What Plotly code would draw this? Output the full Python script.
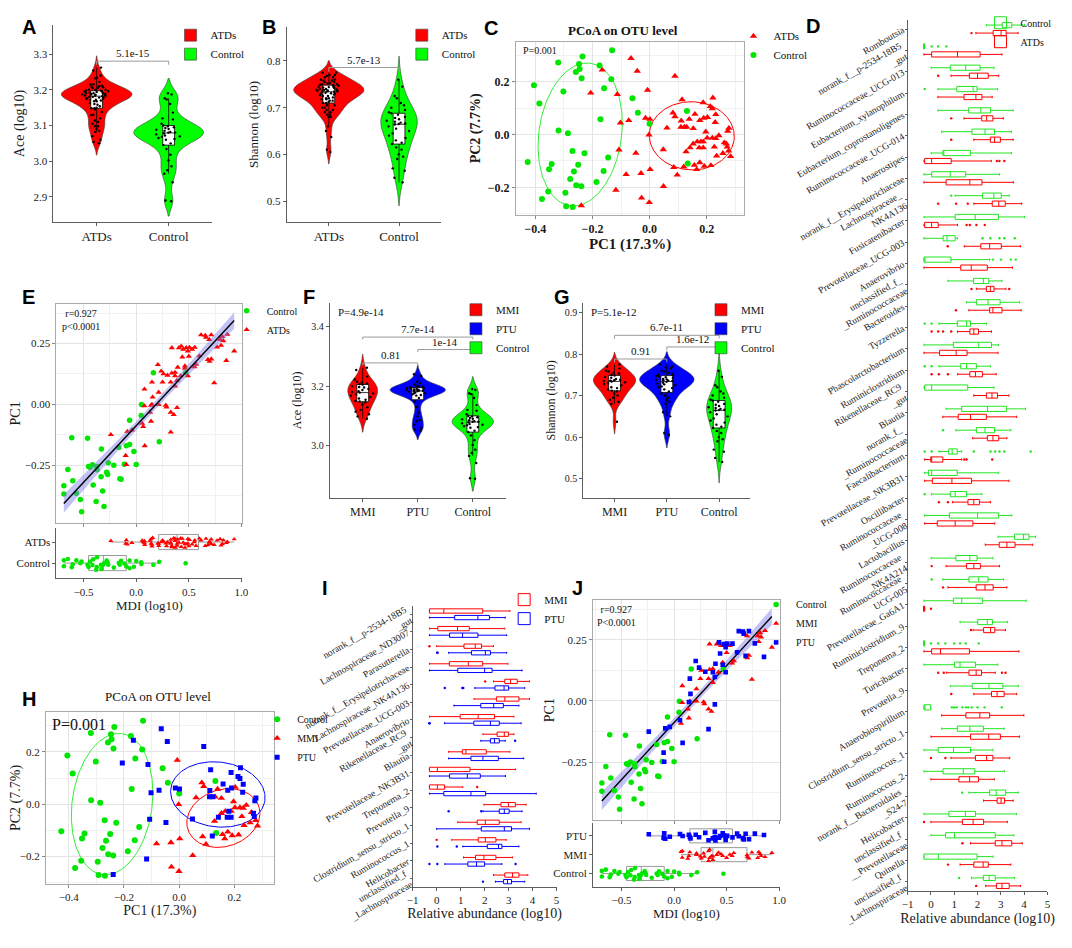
import numpy as np
import plotly.graph_objects as go

W, H = 1072, 948
SERIF = "Liberation Serif, Times New Roman, serif"
SANS = "Liberation Sans, Arial, sans-serif"
RED, GREEN, BLUE = "#ff0000", "#00e600", "#0000ff"
VGREEN = "#00ff00"

# ======================= DATA =======================
GROUPS2 = ["ATDs", "Control"]
GROUPS3 = ["MMI", "PTU", "Control"]

# alpha diversity samples (log10)
ACE_MMI = [3.262, 3.254, 3.232, 3.222, 3.215, 3.212, 3.209, 3.207, 3.205, 3.200, 3.197, 3.195, 3.190,
           3.187, 3.183, 3.180, 3.178, 3.175, 3.172, 3.168, 3.163, 3.158, 3.154, 3.150, 3.148, 3.145,
           3.138, 3.129, 3.120, 3.114, 3.105, 3.098, 3.090]
ACE_PTU = [3.240, 3.234, 3.215, 3.210, 3.205, 3.200, 3.200, 3.198, 3.196, 3.195, 3.194, 3.192, 3.190,
           3.190, 3.189, 3.188, 3.187, 3.186, 3.185, 3.184, 3.183, 3.182, 3.180, 3.178, 3.176, 3.175,
           3.172, 3.170, 3.168, 3.160, 3.148, 3.130, 3.110, 3.098, 3.085, 3.082, 3.070, 3.060, 3.054, 3.050]
ACE_CONTROL = [3.190, 3.187, 3.176, 3.173, 3.160, 3.136, 3.120, 3.117, 3.105, 3.100, 3.098, 3.095,
               3.093, 3.090, 3.088, 3.085, 3.082, 3.080, 3.080, 3.078, 3.075, 3.072, 3.070, 3.068,
               3.065, 3.062, 3.060, 3.050, 3.045, 3.034, 3.018, 3.002, 2.986, 2.975, 2.965, 2.941,
               2.890, 2.888]
SHANNON_MMI = [0.775, 0.770, 0.765, 0.760, 0.758, 0.755, 0.753, 0.750, 0.748, 0.745, 0.743, 0.740,
               0.738, 0.737, 0.736, 0.735, 0.734, 0.732, 0.730, 0.728, 0.725, 0.720, 0.718, 0.715,
               0.712, 0.710, 0.705, 0.700, 0.695, 0.690, 0.685, 0.680, 0.637]
SHANNON_PTU = [0.775, 0.770, 0.768, 0.765, 0.760, 0.758, 0.755, 0.752, 0.750, 0.749, 0.747, 0.745,
               0.744, 0.742, 0.740, 0.739, 0.738, 0.737, 0.736, 0.735, 0.733, 0.731, 0.729, 0.727,
               0.725, 0.722, 0.720, 0.718, 0.715, 0.710, 0.705, 0.700, 0.695, 0.690, 0.685, 0.680,
               0.660, 0.650, 0.610, 0.605]
SHANNON_CONTROL = [0.760, 0.745, 0.725, 0.720, 0.710, 0.705, 0.700, 0.695, 0.690, 0.688, 0.685, 0.680,
                   0.678, 0.675, 0.672, 0.670, 0.668, 0.666, 0.665, 0.664, 0.660, 0.655, 0.650, 0.645,
                   0.640, 0.635, 0.630, 0.625, 0.622, 0.615, 0.610, 0.600, 0.595, 0.590, 0.570, 0.565,
                   0.550, 0.540]

# significance tests: [group a, group b, bracket height, label]
ACE_TEST2 = [["ATDs", "Control", 3.280, "5.1e-15"]]
SHANNON_TEST2 = [["ATDs", "Control", 0.786, "5.7e-13"]]
ACE_TEST3 = [["MMI", "Control", 3.365, "7.7e-14"], ["PTU", "Control", 3.323, "1e-14"], ["MMI", "PTU", 3.278, "0.81"]]
SHANNON_TEST3 = [["MMI", "Control", 0.845, "6.7e-11"], ["PTU", "Control", 0.817, "1.6e-12"], ["MMI", "PTU", 0.788, "0.91"]]

# PCoA on OTU level
PCOA_CTRL_X = [-0.131, -0.235, -0.320, -0.247, -0.175, -0.245, -0.258, -0.238, -0.134, -0.405, -0.302,
               -0.159, -0.060, -0.386, -0.041, 0.131, -0.172, 0.000, -0.319, -0.286, -0.270, -0.228,
               -0.427, -0.343, -0.145, -0.250, -0.352, 0.134, -0.265, -0.161, -0.278, -0.186, -0.257,
               -0.239, -0.355, -0.295, -0.377, -0.292, -0.269]
PCOA_CTRL_Y = [0.319, 0.295, 0.272, 0.267, 0.261, 0.248, 0.236, 0.213, 0.209, 0.186, 0.163, 0.175, 0.137,
               0.117, 0.082, 0.089, 0.058, 0.041, 0.015, 0.005, -0.062, -0.071, -0.104, -0.112, -0.087,
               -0.114, -0.131, -0.110, -0.140, -0.138, -0.168, -0.180, -0.192, -0.196, -0.216, -0.220,
               -0.244, -0.271, -0.274]
PCOA_ATD_X = [-0.065, -0.043, -0.166, 0.089, -0.206, -0.007, -0.113, 0.114, 0.222, 0.188, 0.213, 0.220,
              -0.102, -0.073, -0.014, 0.001, 0.082, 0.089, 0.159, 0.203, 0.190, 0.232, 0.230, 0.139,
              0.176, 0.111, 0.122, 0.110, 0.130, 0.061, 0.153, 0.278, 0.274, 0.197, -0.002, 0.243,
              0.202, 0.220, 0.167, 0.180, 0.188, 0.232, 0.262, 0.153, 0.142, 0.174, 0.188, 0.227,
              0.269, 0.272, 0.277, 0.257, 0.235, 0.128, 0.048, -0.107, -0.048, 0.284, 0.176, 0.157,
              0.192, 0.215, 0.120, 0.085, 0.165, 0.002, -0.030, -0.082, 0.097, 0.049, -0.118, -0.028,
              -0.001, -0.239]
PCOA_ATD_Y = [0.288, 0.240, 0.244, 0.221, 0.157, 0.168, 0.152, 0.132, 0.139, 0.121, 0.106, 0.098, 0.044,
              0.053, 0.062, 0.058, 0.082, 0.068, 0.077, 0.065, 0.062, 0.076, 0.046, 0.058, 0.053, 0.052,
              0.028, 0.028, 0.028, 0.025, 0.023, 0.024, 0.013, 0.010, -0.001, -0.004, -0.013, -0.013,
              -0.027, -0.027, -0.027, -0.015, -0.031, -0.035, -0.050, -0.050, -0.050, -0.047, -0.035,
              -0.047, -0.062, -0.071, -0.081, -0.065, -0.057, -0.058, -0.070, -0.083, -0.106, -0.116,
              -0.120, -0.117, -0.122, -0.124, -0.132, -0.132, -0.147, -0.151, -0.153, -0.196, -0.210,
              -0.240, -0.257, -0.269]
PCOA_ATD_GROUP = list("PPPPPMPPPPPPPPPPMMPMPPPMPPPPMMMPPMMMMMMPMMMMPPPMPPMMMMPPPMMMMMPMMMMMMMPMMP")
# confidence ellipses: [centre x, centre y, semi-axis a, semi-axis b, angle deg]
ELLIPSE_CONTROL = [-0.243, 0.000, 0.272, 0.145, 83]
ELLIPSE_ATDS = [0.148, -0.005, 0.149, 0.129, -3]
ELLIPSE_MMI = [0.160, -0.053, 0.136, 0.108, 22]
ELLIPSE_PTU = [0.140, 0.037, 0.172, 0.124, -8]

# MDI (log10) vs PC1
MDI_CTRL_X = [0.163, 0.050, 0.047, -0.063, -0.613, -0.463, 0.219, -0.331, -0.022, -0.094, -0.063, -0.166,
              -0.213, -0.113, 0.000, -0.438, -0.453, -0.416, -0.375, -0.266, -0.372, -0.281, -0.272,
              -0.334, -0.650, -0.603, -0.156, -0.144, -0.409, -0.688, -0.319, -0.688, -0.569, -0.531,
              -0.381, -0.306, -0.519, 0.470]
PC1_CTRL_Y = [0.130, -0.001, -0.046, -0.066, -0.138, -0.140, -0.154, -0.184, -0.194, -0.171, -0.165,
              -0.178, -0.251, -0.247, -0.248, -0.259, -0.256, -0.249, -0.256, -0.240, -0.269, -0.280,
              -0.289, -0.298, -0.268, -0.314, -0.306, -0.308, -0.332, -0.335, -0.357, -0.369, -0.366,
              -0.392, -0.400, -0.420, -0.442, 0.130]
MDI_ATD_X = [0.616, 0.656, 0.663, 0.694, 0.713, 0.797, 0.866, 0.819, 0.828, 0.806, 0.769, 0.931, 0.856,
             0.338, 0.406, 0.428, 0.447, 0.475, 0.491, 0.506, 0.531, 0.556, 0.438, 0.500, 0.600, 0.713,
             0.697, 0.681, 0.569, 0.553, 0.463, 0.463, 0.394, 0.206, 0.238, 0.259, 0.297, 0.338, 0.369,
             0.369, 0.422, 0.491, 0.150, 0.250, 0.328, 0.388, 0.741, 0.078, 0.213, 0.369, 0.156, 0.141,
             0.150, 0.281, 0.288, 0.131, 0.328, 0.356, 0.388, 0.213, 0.078, 0.141, 0.056, 0.066, -0.041,
             -0.084, -0.241, 0.328, 0.081, -0.100, -0.094]
PC1_ATD_Y = [0.285, 0.283, 0.275, 0.266, 0.285, 0.266, 0.287, 0.278, 0.261, 0.242, 0.235, 0.219, 0.180,
             0.232, 0.232, 0.239, 0.226, 0.232, 0.219, 0.234, 0.226, 0.234, 0.194, 0.197, 0.199, 0.186,
             0.176, 0.184, 0.164, 0.154, 0.157, 0.148, 0.152, 0.163, 0.136, 0.125, 0.119, 0.128, 0.131,
             0.117, 0.117, 0.117, 0.091, 0.091, 0.091, 0.098, 0.088, 0.062, 0.049, 0.075, 0.029, -0.004,
             -0.001, -0.004, -0.012, -0.033, -0.033, -0.043, -0.014, -0.001, -0.007, -0.070, -0.079,
             -0.092, -0.106, -0.112, -0.125, -0.115, -0.171, -0.211, -0.248]
MDI_ATD_GROUP = list("PPPMPMMMMMPMPMMPMPPPMPPMPMMPMMMPPPPMPMMPMPPMMPMMMMPPMMMMMMPMMMPMPPPPPPP")
R_TEXT = "r=0.927"
P_TEXT_E = "p<0.0001"
P_TEXT_J = "P<0.0001"

# differential genera: box stats [low whisker, Q1, median, Q3, high whisker] (log10 relative abundance)
D_GENERA = ["Romboutsia", "norank_f__p-2534-18B5<br>_gut", "Ruminococcaceae_UCG-013",
            "Eubacterium_xylanophilum", "Eubacterium_coprostanoligenes", "Ruminococcaceae_UCG-014",
            "Anaerostipes", "norank_f__Erysipelotrichaceae", "Lachnospiraceae_<br>NK4A136",
            "Fusicatenibacter", "Prevotellaceae_UCG-003", "Anaerovibrio",
            "unclassified_f_<br>_Ruminococcaceae", "Bacteroides", "Tyzzerella", "Phascolarctobacterium",
            "Ruminiclostridium", "Rikenellaceae_RC9<br>_gut", "Blautia", "norank_f_<br>_Ruminococcaceae",
            "Faecalibacterium", "Prevotellaceae_NK3B31", "Oscillibacter", "Ruminococcaceae<br>_UCG-008",
            "Lactobacillus", "Ruminococcaceae<br>_NK4A214", "Ruminococcaceae<br>UCG-005",
            "Prevotellaceae_Ga6A1", "Ruminiclostridium_9", "Treponema_2", "Turicibacter", "Prevotella_9",
            "Anaerobiospirillum", "Clostridium_sensu_stricto_1", "Ruminococcus_1", "Ruminococcus_2",
            "norank_f__Bacteroidales<br>_S24-7", "Helicobacter", "unclassified_f<br>__Prevotellaceae",
            "Quinella", "unclassified_f<br>_Lachnospiraceae"]
D_CONTROL = [[2.38, 3.06, 3.25, 3.47, 4.02], [-0.32, -0.32, -0.30, -0.27, -0.27], [0.01, 0.83, 1.49, 2.11, 2.71],
             [0.30, 1.11, 1.81, 1.98, 2.86], [0.30, 1.62, 2.14, 2.56, 3.53], [0.46, 1.76, 2.32, 2.73, 3.45],
             [0.01, 0.51, 0.53, 1.70, 3.45], [-0.30, 0.03, 0.83, 1.49, 2.94], [1.04, 2.21, 2.70, 3.02, 3.36],
             [-0.30, 1.04, 1.90, 2.90, 4.02], [-0.30, 0.52, 0.69, 1.04, 1.14], [-0.30, -0.30, -0.30, 0.86, 2.52],
             [0.73, 1.83, 2.25, 2.48, 3.05], [1.53, 1.95, 2.45, 2.97, 3.81], [0.34, 1.13, 1.53, 1.70, 2.38],
             [-0.30, 0.96, 2.05, 2.60, 2.91], [0.34, 1.28, 1.53, 1.95, 2.55], [-0.30, -0.27, 0.03, 1.58, 2.71],
             [0.65, 1.32, 2.43, 3.25, 4.06], [1.07, 1.95, 2.32, 2.73, 3.43], [0.34, 0.76, 0.91, 1.13, 1.32],
             [-0.27, -0.11, 0.03, 1.13, 2.91], [0.03, 0.83, 1.04, 1.53, 2.19], [-0.27, 0.79, 2.00, 2.91, 3.47],
             [2.88, 3.59, 3.97, 4.21, 4.49], [0.01, 1.07, 1.67, 1.98, 2.66], [0.51, 1.63, 2.05, 2.45, 3.12],
             [-0.30, 0.96, 1.32, 2.22, 4.09], [1.25, 2.01, 2.42, 2.64, 3.29], [-0.32, -0.32, -0.30, -0.27, -0.27],
             [-0.30, 1.01, 1.25, 1.91, 2.87], [0.83, 1.77, 2.49, 3.09, 3.75], [-0.30, -0.30, -0.30, -0.01, -0.01],
             [0.46, 1.13, 1.67, 2.25, 3.14], [-0.30, 0.31, 0.97, 1.70, 2.66], [-0.30, 0.52, 1.39, 1.88, 3.15],
             [1.63, 2.52, 2.80, 3.21, 3.75], [-0.30, 0.77, 1.48, 1.91, 3.67], [0.00, 0.63, 1.01, 2.76, 3.56],
             [-0.30, -0.30, 0.32, 1.98, 2.67], [1.74, 2.25, 2.50, 2.76, 3.59]]
D_ATDS = [[1.93, 2.67, 3.01, 3.23, 3.74], [-0.30, 0.03, 1.14, 2.11, 3.05], [0.86, 1.65, 2.00, 2.46, 2.91],
          [0.30, 1.42, 1.93, 2.19, 2.63], [1.42, 2.18, 2.39, 2.66, 3.11], [1.84, 2.55, 2.73, 2.98, 3.53],
          [-0.30, -0.27, 0.03, 0.87, 2.59], [-0.30, 0.65, 1.67, 2.19, 3.54], [1.84, 2.63, 2.91, 3.19, 3.90],
          [-0.30, -0.27, 0.03, 0.31, 1.14], [1.43, 2.14, 2.52, 3.02, 3.85], [-0.30, 1.28, 1.73, 2.42, 3.50],
          [1.95, 2.38, 2.55, 2.71, 3.22], [1.63, 2.52, 2.66, 3.05, 3.87], [1.14, 1.67, 1.84, 2.04, 2.60],
          [-0.30, 0.37, 1.08, 1.55, 2.88], [1.15, 1.67, 1.91, 2.21, 2.80], [1.84, 2.38, 2.62, 2.86, 3.35],
          [0.51, 1.17, 1.70, 2.38, 3.68], [1.79, 2.42, 2.66, 2.91, 3.26], [-0.27, -0.01, 0.03, 0.51, 1.32],
          [-0.27, 0.06, 0.90, 1.74, 3.35], [0.93, 1.59, 1.84, 2.08, 2.56], [-0.27, 0.27, 1.04, 1.80, 2.74],
          [2.33, 2.93, 3.26, 3.61, 4.37], [0.65, 1.53, 1.84, 2.12, 2.94], [0.73, 1.94, 2.32, 2.67, 3.26],
          [-0.32, -0.32, -0.30, -0.27, -0.27], [1.81, 2.26, 2.56, 2.74, 3.20], [-0.30, 0.03, 0.41, 1.65, 3.78],
          [0.66, 1.63, 1.94, 2.17, 2.76], [1.84, 2.60, 2.84, 3.14, 3.68], [0.46, 1.50, 2.10, 2.52, 3.99],
          [0.00, 1.70, 2.48, 2.98, 3.80], [0.86, 1.91, 2.39, 2.66, 3.38], [0.00, 1.20, 1.66, 2.04, 2.72],
          [2.26, 2.84, 3.01, 3.16, 3.53], [0.00, 1.35, 1.81, 2.26, 3.28], [1.70, 2.76, 3.05, 3.47, 3.92],
          [1.25, 1.84, 2.24, 2.46, 3.43], [2.35, 2.81, 3.05, 3.36, 3.85]]
D_CONTROL_OUT = [[], [0.03, 0.31, 0.66], [], [-0.27], [], [], [], [], [0.87], [], [2.21, 2.55, 2.94, 3.15, 3.60],
                 [2.66, 3.01, 3.43, 3.64], [], [], [-0.27, 0.03], [], [-0.27, 0.03], [], [], [0.52],
                 [-0.27, 0.03, 1.84, 2.56, 2.76, 2.94, 3.15, 4.28], [], [-0.27], [], [], [], [0.03], [], [],
                 [0.00, 0.31, 0.62, 1.00, 1.25, 1.49, 2.05], [], [],
                 [0.90, 1.00, 1.10, 1.35, 1.50, 1.60, 1.75, 2.00, 2.30, 3.04], [], [], [], [1.34], [], [], [], [1.21]]
D_ATDS_OUT = [[1.74], [], [0.31], [], [0.87], [0.87], [2.83, 2.94, 3.15], [], [0.31, 1.08, 1.58], [1.53, 1.67, 1.95, 2.31],
              [0.72], [], [1.74, 3.36], [1.07], [0.03, 0.31, 0.52, 0.87], [], [0.03, 0.34, 0.73], [], [], [],
              [1.43, 1.53, 2.63], [], [0.34, 0.73], [], [], [0.03], [0.52], [0.00], [1.72], [], [0.31, 0.55, 3.05, 3.20],
              [0.87], [], [], [0.00, 0.62], [], [], [-0.30], [1.35], [0.73], [1.94]]

I_GENERA = ["norank_f__p-2534-18B5<br>_gut", "Lachnospiraceae_ND3007", "Parasutterella",
            "norank_f__Erysipelotrichaceae", "Lachnospiraceae_NK4A136", "Prevotellaceae_UCG-003",
            "Anaerovibrio", "Rikenellaceae_RC9<br>_gut", "Blautia", "Prevotellaceae_NK3B31", "Treponema_2",
            "Prevotella_9", "Clostridium_sensu_stricto_1", "Ruminococcus_1", "Helicobacter",
            "unclassified_f<br>_Lachnospiraceae"]
I_MMI = [[-0.30, -0.30, 0.30, 1.92, 3.05], [-0.30, 0.05, 0.87, 1.36, 2.84], [0.00, 1.14, 1.61, 1.87, 2.37],
         [-0.30, 0.53, 1.32, 1.92, 2.97], [2.37, 2.84, 3.08, 3.36, 3.87], [1.56, 2.49, 2.84, 3.43, 3.87],
         [-0.30, 0.98, 1.73, 2.41, 3.22], [1.93, 2.52, 2.82, 2.99, 3.22], [0.50, 1.07, 1.22, 2.07, 3.05],
         [-0.30, -0.30, 0.03, 1.39, 3.29], [-0.30, -0.30, 0.03, 0.33, 1.09], [1.97, 2.68, 2.99, 3.28, 3.73],
         [0.88, 1.69, 2.03, 2.61, 3.52], [0.63, 1.73, 2.03, 2.47, 2.90], [1.12, 1.62, 1.97, 2.47, 3.16],
         [2.37, 2.84, 3.16, 3.43, 3.80]]
I_PTU = [[-0.30, 0.75, 1.72, 2.20, 2.86], [-0.30, 0.54, 1.08, 1.72, 2.92], [0.50, 1.45, 2.03, 2.24, 2.92],
         [-0.30, 0.88, 2.00, 2.31, 3.56], [1.59, 2.43, 2.81, 3.00, 3.67], [0.72, 1.84, 2.38, 2.78, 3.43],
         [0.33, 1.55, 2.24, 2.61, 3.52], [1.84, 2.24, 2.41, 2.61, 2.86], [0.50, 1.43, 1.93, 2.57, 3.63],
         [-0.30, 0.54, 1.28, 1.82, 2.87], [-0.30, 0.30, 1.43, 2.04, 4.15], [1.93, 2.61, 2.82, 3.02, 3.56],
         [0.00, 1.86, 2.82, 3.12, 3.87], [1.09, 2.11, 2.58, 2.72, 3.43], [0.34, 1.30, 1.66, 2.00, 2.72],
         [2.45, 2.79, 2.95, 3.12, 3.67]]
I_MMI_OUT = [[], [], [-0.30], [], [2.02], [], [], [], [], [], [1.69], [], [], [0.00], [], []]
I_PTU_OUT = [[], [], [0.03, 0.03], [], [0.34, 1.07, 1.11], [], [-0.30, -0.30], [3.27], [], [], [], [0.50, 1.86],
             [], [0.03, 0.84], [-0.30, 0.03, 3.29], [1.93]]

# ======================= HELPERS =======================
fig = go.Figure()


def xd(x0, x1):
    return [x0 / W, x1 / W]


def yd(y0, y1):
    return [1 - y1 / H, 1 - y0 / H]


def tfont(size=11, **kw):
    d = dict(family=SERIF, size=size, color="#1a1a1a")
    d.update(kw)
    return d


def classic(dom, anchor, **kw):
    d = dict(domain=dom, anchor=anchor, showline=True, linecolor="#5e5e5e", linewidth=1,
             ticks="outside", ticklen=3, tickwidth=1, tickcolor="#5e5e5e",
             showgrid=False, zeroline=False, tickfont=tfont(11))
    d.update(kw)
    return d


def bw(dom, anchor, minor_dtick, **kw):
    d = dict(domain=dom, anchor=anchor, showline=True, mirror=True, linecolor="#aaaaaa", linewidth=1,
             ticks="outside", ticklen=3, tickwidth=1, tickcolor="#888888",
             showgrid=True, gridcolor="#e4e4e4", gridwidth=1, zeroline=False, tickfont=tfont(11),
             minor=dict(dtick=minor_dtick, tick0=0, showgrid=True, gridcolor="#f1f1f1", gridwidth=1))
    d.update(kw)
    return d


def ellipse_xy(p, n=200):
    cx, cy, a, b, ang = p
    t = np.linspace(0, 2 * np.pi, n)
    th = np.deg2rad(ang)
    return (cx + a * np.cos(t) * np.cos(th) - b * np.sin(t) * np.sin(th),
            cy + a * np.cos(t) * np.sin(th) + b * np.sin(t) * np.cos(th))


def regression(xs, ys, n=120):
    x = np.asarray(xs, float)
    y = np.asarray(ys, float)
    slope, icpt = np.polyfit(x, y, 1)
    grid = np.linspace(x.min(), x.max(), n)
    fit = icpt + slope * grid
    resid = y - (icpt + slope * x)
    s = np.sqrt(np.sum(resid ** 2) / (len(x) - 2))
    se = s * np.sqrt(1 / len(x) + (grid - x.mean()) ** 2 / np.sum((x - x.mean()) ** 2))
    return grid, fit, fit - 1.98 * se, fit + 1.98 * se


def axn(i):
    return ("x", "y") if i == 1 else ("x%d" % i, "y%d" % i)


annotations = []


def note(text, xpx, ypx, size=11, xanchor="left", yanchor="middle", family=SERIF, color="#111"):
    annotations.append(dict(text=text, x=xpx / W, y=1 - ypx / H, xref="paper", yref="paper",
                            xanchor=xanchor, yanchor=yanchor, showarrow=False,
                            font=dict(family=family, size=size, color=color)))


def violins(i, cats, samples, colors, widths, unit_px, legend, spread_px=27):
    xa, ya = axn(i)
    for cat, vals, col, w in zip(cats, samples, colors, widths):
        fig.add_trace(go.Violin(
            x=[cat] * len(vals), y=vals, name=cat, legend=legend, xaxis=xa, yaxis=ya,
            fillcolor=col, line=dict(color="#3c3c3c", width=0.6), opacity=1,
            points="all", pointpos=0, jitter=min(1.0, spread_px / unit_px / w),
            marker=dict(color="black", size=2.4),
            box=dict(visible=True, width=min(1.0, 12 / unit_px / w), fillcolor="white",
                     line=dict(color="black", width=0.8)),
            meanline=dict(visible=False), width=w, scalemode="width", spanmode="soft",
            hoverinfo="skip"))


def brackets(i, tests, cats, drop, fsize=11):
    xa, ya = axn(i)
    for a, b, yv, label in tests:
        fig.add_trace(go.Scatter(x=[a, a, b, b], y=[yv - drop, yv, yv, yv - drop], mode="lines",
                                 line=dict(color="#9c9c9c", width=1), xaxis=xa, yaxis=ya,
                                 showlegend=False, hoverinfo="skip"))
        annotations.append(dict(text=label, x=(cats.index(a) + cats.index(b)) / 2, y=yv, xref=xa, yref=ya,
                                yanchor="bottom", xanchor="center", showarrow=False, yshift=0,
                                font=dict(family=SERIF, size=fsize, color="#111")))


def stat_boxes(i, cats, stats, outs, name, color, group, legend, lw=1.0, ms=2.4):
    xa, ya = axn(i)
    s = np.asarray(stats, float)
    fig.add_trace(go.Box(y=cats, lowerfence=s[:, 0], q1=s[:, 1], median=s[:, 2], q3=s[:, 3],
                         upperfence=s[:, 4], orientation="h", name=name, legend=legend,
                         line=dict(color=color, width=lw), fillcolor="rgba(255,255,255,0)",
                         offsetgroup=group, alignmentgroup="g%d" % i, whiskerwidth=0.45,
                         boxpoints=False, xaxis=xa, yaxis=ya, hoverinfo="skip"))
    oc = [c for c, vs in zip(cats, outs) for _ in vs]
    ov = [v for vs in outs for v in vs]
    fig.add_trace(go.Box(y=oc, x=ov, orientation="h", boxpoints="all", jitter=0, pointpos=0,
                         line=dict(color=color, width=0), fillcolor="rgba(0,0,0,0)",
                         marker=dict(color=color, size=ms), offsetgroup=group, alignmentgroup="g%d" % i,
                         showlegend=False, xaxis=xa, yaxis=ya, hoverinfo="skip"))


def strip(i, cat, vals, color, symbol, width):
    xa, ya = axn(i)
    fig.add_trace(go.Box(x=vals, y=[cat] * len(vals), orientation="h", boxpoints="all", jitter=0.9,
                         pointpos=0, marker=dict(color=color, symbol=symbol, size=4.6),
                         line=dict(color="#9a9a9a", width=1), fillcolor="rgba(0,0,0,0)",
                         offsetgroup="s%d" % i, alignmentgroup="s%d" % i, whiskerwidth=0, width=width,
                         showlegend=False, xaxis=xa, yaxis=ya, hoverinfo="skip"))


# ======================= PANEL A / B : violins =======================
ACE_ATDS = ACE_MMI + ACE_PTU
SHANNON_ATDS = SHANNON_MMI + SHANNON_PTU
violins(1, GROUPS2, [ACE_ATDS, ACE_CONTROL], [RED, VGREEN], [0.98, 0.97], 73.2, "legend", 30)
brackets(1, ACE_TEST2, GROUPS2, 0.010)
violins(2, GROUPS2, [SHANNON_ATDS, SHANNON_CONTROL], [RED, VGREEN], [1.0, 0.52], 71.4, "legend2", 30)
brackets(2, SHANNON_TEST2, GROUPS2, 0.009)

# ======================= PANEL C : PCoA =======================
ex, ey = ellipse_xy(ELLIPSE_ATDS)
fig.add_trace(go.Scatter(x=ex, y=ey, mode="lines", line=dict(color=RED, width=1), xaxis="x3", yaxis="y3",
                         showlegend=False, hoverinfo="skip"))
ex, ey = ellipse_xy(ELLIPSE_CONTROL)
fig.add_trace(go.Scatter(x=ex, y=ey, mode="lines", line=dict(color="#33ee33", width=1), xaxis="x3", yaxis="y3",
                         showlegend=False, hoverinfo="skip"))
fig.add_trace(go.Scatter(x=PCOA_ATD_X, y=PCOA_ATD_Y, mode="markers", name="ATDs", legend="legend3",
                         marker=dict(color=RED, symbol="triangle-up", size=6.5), xaxis="x3", yaxis="y3"))
fig.add_trace(go.Scatter(x=PCOA_CTRL_X, y=PCOA_CTRL_Y, mode="markers", name="Control", legend="legend3",
                         marker=dict(color=GREEN, size=6), xaxis="x3", yaxis="y3"))

# ======================= PANEL D : genera boxes =======================
stat_boxes(4, D_GENERA, D_CONTROL, D_CONTROL_OUT, "Control", "#22e622", "c", "legend4")
stat_boxes(4, D_GENERA, D_ATDS, D_ATDS_OUT, "ATDs", RED, "a", "legend4")

# ======================= PANEL E : MDI vs PC1 =======================
fig.add_trace(go.Scatter(x=MDI_CTRL_X, y=PC1_CTRL_Y, mode="markers", name="Control", legend="legend5",
                         marker=dict(color=GREEN, size=5.5), xaxis="x5", yaxis="y5"))
fig.add_trace(go.Scatter(x=MDI_ATD_X, y=PC1_ATD_Y, mode="markers", name="ATDs", legend="legend5",
                         marker=dict(color=RED, symbol="triangle-up", size=5.5), xaxis="x5", yaxis="y5"))
gx, gf, glo, ghi = regression(MDI_CTRL_X + MDI_ATD_X, PC1_CTRL_Y + PC1_ATD_Y)
for xa, ya in [("x5", "y5"), ("x11", "y11")]:
    fig.add_trace(go.Scatter(x=gx, y=glo, mode="lines", line=dict(width=0), xaxis=xa, yaxis=ya,
                             showlegend=False, hoverinfo="skip"))
    fig.add_trace(go.Scatter(x=gx, y=ghi, mode="lines", line=dict(width=0), fill="tonexty",
                             fillcolor="rgba(120,120,235,0.45)", xaxis=xa, yaxis=ya,
                             showlegend=False, hoverinfo="skip"))
    fig.add_trace(go.Scatter(x=gx, y=gf, mode="lines", line=dict(color="black", width=1.4), xaxis=xa, yaxis=ya,
                             showlegend=False, hoverinfo="skip"))
strip(6, "ATDs", MDI_ATD_X, RED, "triangle-up", 0.72)
strip(6, "Control", MDI_CTRL_X, GREEN, "circle", 0.72)

# ======================= PANEL F / G : three-group violins =======================
violins(7, GROUPS3, [ACE_MMI, ACE_PTU, ACE_CONTROL], [RED, BLUE, VGREEN], [0.54, 1.0, 0.75], 55.9, "legend6", 26)
brackets(7, ACE_TEST3, GROUPS3, 0.008)
violins(8, GROUPS3, [SHANNON_MMI, SHANNON_PTU, SHANNON_CONTROL], [RED, BLUE, VGREEN], [0.81, 1.04, 0.48],
        53.1, "legend7", 26)
brackets(8, SHANNON_TEST3, GROUPS3, 0.008)

# ======================= PANEL H : PCoA with MMI / PTU =======================
mmi_px = [x for x, g in zip(PCOA_ATD_X, PCOA_ATD_GROUP) if g == "M"]
mmi_py = [y for y, g in zip(PCOA_ATD_Y, PCOA_ATD_GROUP) if g == "M"]
ptu_px = [x for x, g in zip(PCOA_ATD_X, PCOA_ATD_GROUP) if g == "P"]
ptu_py = [y for y, g in zip(PCOA_ATD_Y, PCOA_ATD_GROUP) if g == "P"]
for par, col in [(ELLIPSE_CONTROL, "#33ee33"), (ELLIPSE_PTU, BLUE), (ELLIPSE_MMI, RED)]:
    ex, ey = ellipse_xy(par)
    fig.add_trace(go.Scatter(x=ex, y=ey, mode="lines", line=dict(color=col, width=1), xaxis="x9", yaxis="y9",
                             showlegend=False, hoverinfo="skip"))
fig.add_trace(go.Scatter(x=PCOA_CTRL_X, y=PCOA_CTRL_Y, mode="markers", name="Control", legend="legend8",
                         marker=dict(color=GREEN, size=6), xaxis="x9", yaxis="y9"))
fig.add_trace(go.Scatter(x=mmi_px, y=mmi_py, mode="markers", name="MMI", legend="legend8",
                         marker=dict(color=RED, symbol="triangle-up", size=6.5), xaxis="x9", yaxis="y9"))
fig.add_trace(go.Scatter(x=ptu_px, y=ptu_py, mode="markers", name="PTU", legend="legend8",
                         marker=dict(color=BLUE, symbol="square", size=5), xaxis="x9", yaxis="y9"))

# ======================= PANEL I : MMI vs PTU genera =======================
stat_boxes(10, I_GENERA, I_MMI, I_MMI_OUT, "MMI", RED, "m", "legend9")
stat_boxes(10, I_GENERA, I_PTU, I_PTU_OUT, "PTU", BLUE, "p", "legend9")

# ======================= PANEL J : MDI vs PC1 by drug =======================
mmi_mx = [x for x, g in zip(MDI_ATD_X, MDI_ATD_GROUP) if g == "M"]
mmi_my = [y for y, g in zip(PC1_ATD_Y, MDI_ATD_GROUP) if g == "M"]
ptu_mx = [x for x, g in zip(MDI_ATD_X, MDI_ATD_GROUP) if g == "P"]
ptu_my = [y for y, g in zip(PC1_ATD_Y, MDI_ATD_GROUP) if g == "P"]
fig.add_trace(go.Scatter(x=MDI_CTRL_X, y=PC1_CTRL_Y, mode="markers", name="Control", legend="legend10",
                         marker=dict(color=GREEN, size=5.5), xaxis="x11", yaxis="y11"))
fig.add_trace(go.Scatter(x=mmi_mx, y=mmi_my, mode="markers", name="MMI", legend="legend10",
                         marker=dict(color=RED, symbol="triangle-up", size=5.5), xaxis="x11", yaxis="y11"))
fig.add_trace(go.Scatter(x=ptu_mx, y=ptu_my, mode="markers", name="PTU", legend="legend10",
                         marker=dict(color=BLUE, symbol="square", size=4.6), xaxis="x11", yaxis="y11"))
strip(12, "PTU", ptu_mx, BLUE, "square", 0.75)
strip(12, "MMI", mmi_mx, RED, "triangle-up", 0.75)
strip(12, "Control", MDI_CTRL_X, GREEN, "circle", 0.75)

# ======================= TEXT =======================
for letter, xp, yp in [("A", 2, 1), ("B", 246, 1), ("C", 471, 2), ("D", 799, 0), ("E", 2, 283),
                       ("F", 288, 283), ("G", 543, 283), ("H", 2, 703), ("I", 307, 587), ("J", 561, 587)]:
    note("<b>%s</b>" % letter, xp, yp, size=20, yanchor="top", family=SANS, color="#000")
note("<b>PCoA on OTU level</b>", 615, 18, size=13, xanchor="center")
note("PCoA on OTU level", 142, 714, size=13, xanchor="center")
note("P=0.001", 511, 39, size=10)
note("P=0.001", 33, 744, size=16)
note("P=4.9e-14", 323, 312, size=11)
note("P=5.1e-12", 580, 312, size=11)
note("%s<br>%s" % (R_TEXT, P_TEXT_E), 43, 306, size=10, yanchor="top")
note("%s<br>%s" % (R_TEXT, P_TEXT_J), 586, 616, size=10, yanchor="top")


def leg(xpx, ypx, size=11):
    return dict(x=xpx / W, y=1 - ypx / H, xanchor="left", yanchor="top", bgcolor="rgba(0,0,0,0)",
                borderwidth=0, font=dict(family=SERIF, size=size, color="#111"), tracegroupgap=0,
                itemwidth=30, orientation="v", traceorder="normal")


L = dict(width=W, height=H, margin=dict(l=0, r=0, t=0, b=0), paper_bgcolor="white", plot_bgcolor="white",
         font=dict(family=SERIF, size=11, color="#111"), boxmode="group", boxgap=0.25, boxgroupgap=0.35,
         violinmode="overlay", violingap=0, hovermode=False, showlegend=True, annotations=annotations,
         legend=leg(155, 8), legend2=leg(390, 8), legend3=leg(727, 9), legend4=leg(978, -5, 10),
         legend5=leg(212, 296, 10), legend6=leg(445, 295), legend7=leg(694, 295), legend8=leg(243, 723, 10),
         legend9=leg(494, 598), legend10=leg(750, 603, 10))

cat_font = tfont(13)
# A
L["xaxis"] = classic(xd(36, 197), "y", type="category", categoryorder="array", categoryarray=GROUPS2,
                     range=[-0.6, 1.6], tickfont=cat_font)
L["yaxis"] = classic(yd(13, 218), "x", range=[2.831, 3.38], tick0=2.9, dtick=0.1, tickformat=".1f",
                     title=dict(text="Ace (log10)", font=tfont(14), standoff=5))
# B
L["xaxis2"] = classic(xd(273, 430), "y2", type="category", categoryorder="array", categoryarray=GROUPS2,
                      range=[-0.6, 1.6], tickfont=cat_font)
L["yaxis2"] = classic(yd(15, 218), "x2", range=[0.456, 0.872], tick0=0.5, dtick=0.1, tickformat=".1f",
                      title=dict(text="Shannon (log10)", font=tfont(13), standoff=5))
# C
L["xaxis3"] = bw(xd(506, 738), "y3", 0.1, range=[-0.468, 0.332], tick0=0, dtick=0.2, tickformat=".1f",
                 tickfont=tfont(12, weight="bold"),
                 title=dict(text="PC1 (17.3%)", font=tfont(15, weight="bold"), standoff=1))
L["yaxis3"] = bw(yd(30, 211), "x3", 0.1, range=[-0.304, 0.351], tick0=0, dtick=0.2, tickformat=".1f",
                 tickfont=tfont(12, weight="bold"),
                 title=dict(text="PC2 (7.7%)", font=tfont(14, weight="bold"), standoff=3))
# D
L["xaxis4"] = classic(xd(904, 1046), "y4", range=[-1, 5], tick0=0, dtick=1,
                      title=dict(text="Relative abundance (log10)", font=tfont(14), standoff=3))
L["yaxis4"] = classic(yd(7, 918), "x4", type="category", categoryorder="array", categoryarray=D_GENERA,
                      range=[40.44, -0.44], tickangle=-30, tickfont=tfont(9.5), ticklen=2)
# E
L["xaxis5"] = bw(xd(39, 228), "y5", 0.25, range=[-0.759, 1.009], tick0=0, dtick=0.5, showticklabels=False)
L["yaxis5"] = bw(yd(304, 533), "x5", 0.125, range=[-0.488, 0.413], tick0=0, dtick=0.25, tickformat=".2f",
                 title=dict(text="PC1", font=tfont(14), standoff=3))
L["xaxis6"] = classic(xd(39, 228), "y6", range=[-0.759, 1.009], tick0=0, dtick=0.5, tickformat=".1f",
                      title=dict(text="MDI (log10)", font=tfont(13), standoff=2))
L["yaxis6"] = classic(yd(538, 591), "x6", type="category", categoryorder="array",
                      categoryarray=["Control", "ATDs"], range=[-0.73, 1.68], tickfont=tfont(11))
# F
L["xaxis7"] = classic(xd(316.7, 495.7), "y7", type="category", categoryorder="array", categoryarray=GROUPS3,
                      range=[-0.6, 2.6], tickfont=tfont(12))
L["yaxis7"] = classic(yd(303, 506.7), "x7", range=[2.824, 3.48], tick0=3.0, dtick=0.2, tickformat=".1f",
                      tickfont=tfont(10), title=dict(text="Ace (log10)", font=tfont(12), standoff=6))
# G
L["xaxis8"] = classic(xd(574.3, 744.3), "y8", type="category", categoryorder="array", categoryarray=GROUPS3,
                      range=[-0.6, 2.6], tickfont=tfont(12))
L["yaxis8"] = classic(yd(303, 506.7), "x8", range=[0.454, 0.923], tick0=0.5, dtick=0.1, tickformat=".1f",
                      tickfont=tfont(10), title=dict(text="Shannon (log10)", font=tfont(12), standoff=6))
# H
L["xaxis9"] = bw(xd(28.3, 260), "y9", 0.1, range=[-0.483, 0.343], tick0=0, dtick=0.2, tickformat=".1f",
                 title=dict(text="PC1 (17.3%)", font=tfont(14), standoff=3))
L["yaxis9"] = bw(yd(731, 910), "x9", 0.1, range=[-0.304, 0.351], tick0=0, dtick=0.2, tickformat=".1f",
                 title=dict(text="PC2 (7.7%)", font=tfont(14), standoff=2))
# I
L["xaxis10"] = classic(xd(401, 547.3), "y10", range=[-1, 5], tick0=0, dtick=1,
                       title=dict(text="Relative abundance (log10)", font=tfont(14), standoff=3))
L["yaxis10"] = classic(yd(620, 913.3), "x10", type="category", categoryorder="array", categoryarray=I_GENERA,
                       range=[15.48, -0.46], tickangle=-30, tickfont=tfont(9.5), ticklen=2)
# J
L["xaxis11"] = bw(xd(584.3, 774), "y11", 0.25, range=[-0.772, 1.006], tick0=0, dtick=0.5, showticklabels=False)
L["yaxis11"] = bw(yd(613.3, 844), "x11", 0.125, range=[-0.488, 0.413], tick0=0, dtick=0.25, tickformat=".2f",
                  title=dict(text="PC1", font=tfont(14), standoff=3))
L["xaxis12"] = classic(xd(584.3, 774), "y12", range=[-0.772, 1.006], tick0=0, dtick=0.5, tickformat=".1f",
                       title=dict(text="MDI (log10)", font=tfont(13), standoff=2))
L["yaxis12"] = classic(yd(846.7, 913.3), "x12", type="category", categoryorder="array",
                       categoryarray=["Control", "MMI", "PTU"], range=[-0.71, 2.68], tickfont=tfont(11))

fig.update_layout(**L)
fig.write_html("out.html")
